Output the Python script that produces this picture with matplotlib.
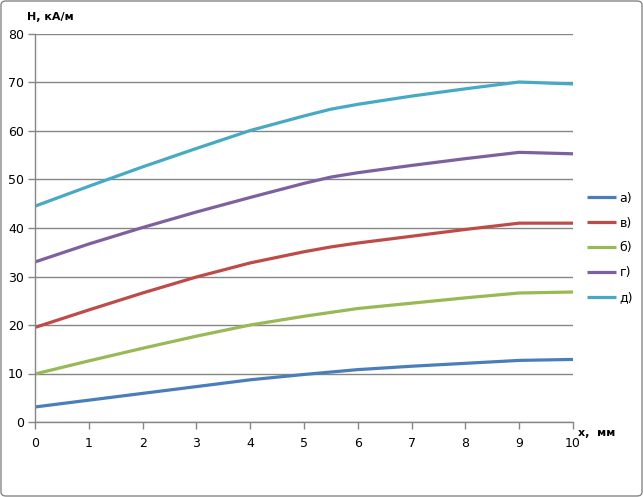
import matplotlib
matplotlib.use("Agg")
import matplotlib.pyplot as plt
from matplotlib.patches import FancyBboxPatch

x = [0, 1, 2, 3, 4, 5, 5.5, 6, 7, 8, 9, 10]
series_a = [3.1, 4.5, 5.9, 7.3, 8.7, 9.8, 10.3, 10.8, 11.5, 12.1, 12.7, 12.9]
series_v = [19.5, 23.1, 26.6, 29.9, 32.8, 35.1, 36.1, 36.9, 38.3, 39.7, 41.0, 41.0]
series_b = [9.9, 12.6, 15.2, 17.7, 20.0, 21.8, 22.6, 23.4, 24.5, 25.6, 26.6, 26.8]
series_g = [33.0, 36.7, 40.1, 43.3, 46.3, 49.2, 50.5, 51.4, 52.9, 54.3, 55.6, 55.3]
series_d = [44.5, 48.6, 52.6, 56.4, 60.1, 63.1, 64.5, 65.5, 67.2, 68.7, 70.1, 69.7]
labels = ["а)", "в)", "б)", "г)", "д)"]
colors = ["#4A7EBB", "#BE4B48", "#98B954", "#7D60A0", "#46AAC5"]
xticks = list(range(0, 11))
yticks = list(range(0, 81, 10))

plt.rcParams['font.family'] = ['DejaVu Sans']
fig = plt.figure(figsize=(6.43, 4.97), dpi=100)
ax = fig.add_axes([35/643, 75/497, 538/643, 388/497])

grey = "#868686"
for s, lab, c in zip([series_a, series_v, series_b, series_g, series_d], labels, colors):
    ax.plot(x, s, color=c, lw=2.3, label=lab, solid_capstyle='butt')

ax.set_xlim(0, 10)
ax.set_ylim(0, 80)
ax.set_xticks(xticks)
ax.set_yticks(yticks)
ax.tick_params(axis='both', colors=grey, labelcolor='black', labelsize=9, length=5, width=1)
ax.tick_params(axis='x', pad=6)
ax.tick_params(axis='y', pad=3)
ax.yaxis.grid(True, color=grey, lw=1)
ax.set_axisbelow(True)
for sp in ['top', 'right']:
    ax.spines[sp].set_visible(False)
for sp in ['left', 'bottom']:
    ax.spines[sp].set_color(grey)
    ax.spines[sp].set_linewidth(1)

fig.text(27/643, 1 - 17/497, "H, кА/м", fontsize=8, fontweight='bold', va='center', ha='left')
fig.text(578/643, 1 - 433/497, "x,  мм", fontsize=8, fontweight='bold', va='center', ha='left')

leg = fig.legend(loc='center left', bbox_to_anchor=(576/643, 1 - 248/497), frameon=False,
                 fontsize=9, handlelength=2.3, labelspacing=0.95, handletextpad=0.3)

border = FancyBboxPatch((1/643, 1/497), 641/643, 495/497, boxstyle="round,pad=0,rounding_size=0.008",
                        transform=fig.transFigure, fill=False, edgecolor=grey, lw=1)
fig.patches.append(border)

fig.savefig("out.png", dpi=100)
